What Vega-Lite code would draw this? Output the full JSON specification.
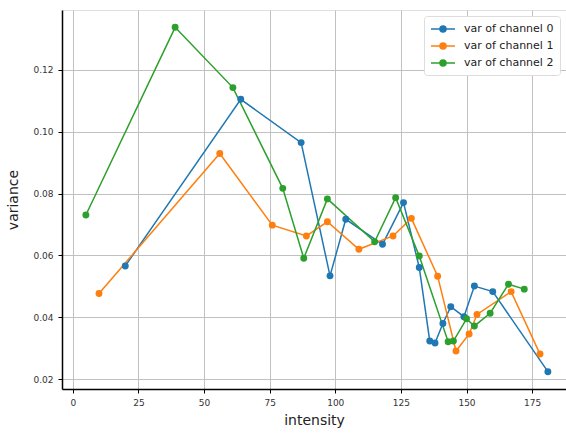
{
  "$schema": "https://vega.github.io/schema/vega-lite/v6.json",
  "autosize": {"type": "none"},
  "padding": {"left": 62, "top": 10, "right": 0, "bottom": 45},
  "width": 504,
  "height": 379,
  "background": "white",
  "config": {
    "font": "DejaVu Sans",
    "view": {"stroke": "#e0e0e0"},
    "axis": {
      "domainColor": "#000000",
      "domainWidth": 1.5,
      "gridColor": "#c0c0c0",
      "gridWidth": 1,
      "tickColor": "#000000",
      "tickSize": 4,
      "labelFontSize": 9,
      "labelColor": "#333333",
      "titleFontSize": 14,
      "titleFontWeight": "normal",
      "titleColor": "#222222"
    }
  },
  "data": {
    "values": [
      {"ch": "var of channel 0", "x": 20, "y": 0.0566},
      {"ch": "var of channel 0", "x": 64, "y": 0.1105},
      {"ch": "var of channel 0", "x": 87, "y": 0.0965},
      {"ch": "var of channel 0", "x": 98, "y": 0.0534},
      {"ch": "var of channel 0", "x": 104, "y": 0.0717},
      {"ch": "var of channel 0", "x": 118, "y": 0.0636},
      {"ch": "var of channel 0", "x": 126, "y": 0.0771},
      {"ch": "var of channel 0", "x": 132, "y": 0.0561},
      {"ch": "var of channel 0", "x": 136, "y": 0.0323},
      {"ch": "var of channel 0", "x": 138, "y": 0.0317},
      {"ch": "var of channel 0", "x": 141, "y": 0.038},
      {"ch": "var of channel 0", "x": 144, "y": 0.0434},
      {"ch": "var of channel 0", "x": 149, "y": 0.0402},
      {"ch": "var of channel 0", "x": 153, "y": 0.0501},
      {"ch": "var of channel 0", "x": 160, "y": 0.0483},
      {"ch": "var of channel 0", "x": 181, "y": 0.0224},
      {"ch": "var of channel 1", "x": 10, "y": 0.0477},
      {"ch": "var of channel 1", "x": 56, "y": 0.093},
      {"ch": "var of channel 1", "x": 76, "y": 0.0698},
      {"ch": "var of channel 1", "x": 89, "y": 0.0663},
      {"ch": "var of channel 1", "x": 97, "y": 0.0709},
      {"ch": "var of channel 1", "x": 109, "y": 0.062},
      {"ch": "var of channel 1", "x": 122, "y": 0.0663},
      {"ch": "var of channel 1", "x": 129, "y": 0.072},
      {"ch": "var of channel 1", "x": 139, "y": 0.0533},
      {"ch": "var of channel 1", "x": 146, "y": 0.0291},
      {"ch": "var of channel 1", "x": 151, "y": 0.0346},
      {"ch": "var of channel 1", "x": 154, "y": 0.0409},
      {"ch": "var of channel 1", "x": 167, "y": 0.0483},
      {"ch": "var of channel 1", "x": 178, "y": 0.0281},
      {"ch": "var of channel 2", "x": 5, "y": 0.0731},
      {"ch": "var of channel 2", "x": 39, "y": 0.1338},
      {"ch": "var of channel 2", "x": 61, "y": 0.1143},
      {"ch": "var of channel 2", "x": 80, "y": 0.0817},
      {"ch": "var of channel 2", "x": 88, "y": 0.0591},
      {"ch": "var of channel 2", "x": 97, "y": 0.0783},
      {"ch": "var of channel 2", "x": 115, "y": 0.0644},
      {"ch": "var of channel 2", "x": 123, "y": 0.0787},
      {"ch": "var of channel 2", "x": 132, "y": 0.0598},
      {"ch": "var of channel 2", "x": 143, "y": 0.0321},
      {"ch": "var of channel 2", "x": 145, "y": 0.0323},
      {"ch": "var of channel 2", "x": 150, "y": 0.0395},
      {"ch": "var of channel 2", "x": 153, "y": 0.0372},
      {"ch": "var of channel 2", "x": 159, "y": 0.0413},
      {"ch": "var of channel 2", "x": 166, "y": 0.0507},
      {"ch": "var of channel 2", "x": 172, "y": 0.0491}
    ]
  },
  "mark": {"type": "line", "strokeWidth": 1.5, "point": {"filled": true, "size": 48, "opacity": 1}},
  "encoding": {
    "x": {
      "field": "x", "type": "quantitative",
      "scale": {"domain": [-4.1, 187.9], "nice": false, "zero": false},
      "axis": {"values": [0, 25, 50, 75, 100, 125, 150, 175], "title": "intensity", "titlePadding": 6, "labelPadding": 5}
    },
    "y": {
      "field": "y", "type": "quantitative",
      "scale": {"domain": [0.0168, 0.1394], "nice": false, "zero": false},
      "axis": {"values": [0.02, 0.04, 0.06, 0.08, 0.10, 0.12], "format": ".2f", "title": "variance", "titlePadding": 12, "labelPadding": 5}
    },
    "color": {
      "field": "ch", "type": "nominal",
      "scale": {"range": ["#1f77b4", "#ff7f0e", "#2ca02c"]},
      "legend": {
        "title": null,
        "orient": "top-right",
        "offset": 6,
        "labelFontSize": 11,
        "labelColor": "#222222",
        "labelOffset": 20,
        "symbolType": "M-1,0H3M0.5,0A0.5,0.5,0,1,1,1.5,0A0.5,0.5,0,1,1,0.5,0Z",
        "symbolSize": 144,
        "symbolStrokeWidth": 1.5,
        "rowPadding": 4,
        "padding": 6,
        "strokeColor": "#dddddd",
        "fillColor": "white",
        "cornerRadius": 3
      }
    }
  }
}
